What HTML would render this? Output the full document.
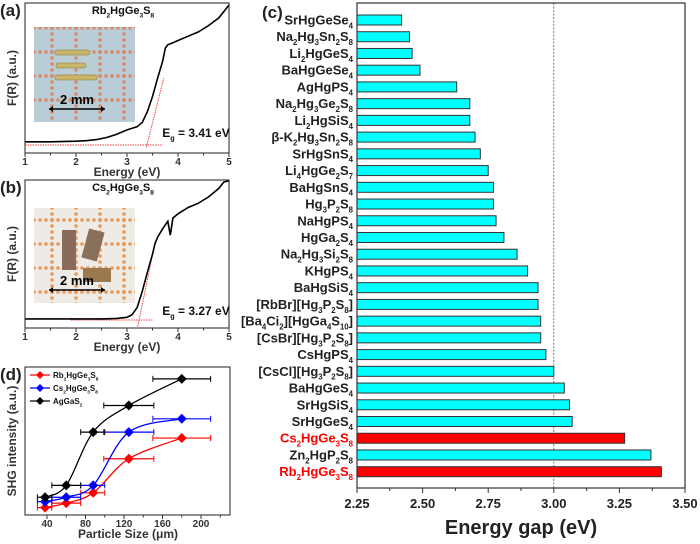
<!DOCTYPE html>
<html><head><meta charset="utf-8"><style>
html,body{margin:0;padding:0;background:#fff;}
svg{display:block;font-family:"Liberation Sans",Arial,sans-serif;font-weight:bold;}
</style></head><body>
<svg id="fig" width="700" height="544" viewBox="0 0 700 544" xmlns="http://www.w3.org/2000/svg">
<defs>
<pattern id="dotsA" width="24" height="24" patternUnits="userSpaceOnUse">
<rect width="24" height="24" fill="#b9cdd6"/>
<circle cx="4" cy="4" r="2" fill="#d98a6a"/><circle cx="10" cy="4" r="1.8" fill="#d98a6a"/><circle cx="16" cy="4" r="1.8" fill="#d98a6a"/><circle cx="22" cy="4" r="1.8" fill="#d98a6a"/>
<circle cx="4" cy="10" r="1.8" fill="#d98a6a"/><circle cx="4" cy="16" r="1.8" fill="#d98a6a"/><circle cx="4" cy="22" r="1.8" fill="#d98a6a"/>
</pattern>
<pattern id="dotsB" width="24" height="24" patternUnits="userSpaceOnUse">
<rect width="24" height="24" fill="#eeeae6"/>
<circle cx="4" cy="4" r="2" fill="#e79a5c"/><circle cx="10" cy="4" r="1.8" fill="#e79a5c"/><circle cx="16" cy="4" r="1.8" fill="#e79a5c"/><circle cx="22" cy="4" r="1.8" fill="#e79a5c"/>
<circle cx="4" cy="10" r="1.8" fill="#e79a5c"/><circle cx="4" cy="16" r="1.8" fill="#e79a5c"/><circle cx="4" cy="22" r="1.8" fill="#e79a5c"/>
</pattern>
</defs>
<g id="root"></g>
</svg>
<script>
// ---- Panel (c) data ----
const compounds = ["SrHgGeSe_4","Na_2Hg_3Sn_2S_8","Li_2HgGeS_4","BaHgGeSe_4","AgHgPS_4","Na_2Hg_3Ge_2S_8","Li_2HgSiS_4","β-K_2Hg_3Sn_2S_8","SrHgSnS_4","Li_4HgGe_2S_7","BaHgSnS_4","Hg_3P_2S_8","NaHgPS_4","HgGa_2S_4","Na_2Hg_3Si_2S_8","KHgPS_4","BaHgSiS_4","[RbBr][Hg_3P_2S_8]","[Ba_4Ci_2][HgGa_4S_10]","[CsBr][Hg_3P_2S_8]","CsHgPS_4","[CsCl][Hg_3P_2S_8]","BaHgGeS_4","SrHgSiS_4","SrHgGeS_4","Cs_2HgGe_3S_8","Zn_2HgP_2S_8","Rb_2HgGe_3S_8"];
const gaps = [2.42,2.45,2.46,2.49,2.63,2.68,2.68,2.70,2.72,2.75,2.77,2.77,2.78,2.81,2.86,2.90,2.94,2.94,2.95,2.95,2.97,3.00,3.04,3.06,3.07,3.27,3.37,3.41];
const highlighted = ["Cs_2HgGe_3S_8","Rb_2HgGe_3S_8"];
const gapTicks = ["2.25","2.50","2.75","3.00","3.25","3.50"];
// ---- Panel (a) spectrum ----
const energyA = [1.0,1.5,2.0,2.2,2.4,2.6,2.8,3.0,3.2,3.3,3.4,3.5,3.6,3.7,3.75,3.8,3.9,4.0,4.2,4.4,4.6,4.8,4.9,5.0];
const frA = [3,3,3.5,4,5,7,10,14,17,21,31,45,62,78,90,93,95,97,101,105,111,118,124,130];
// ---- Panel (b) spectrum ----
const energyB = [1.0,1.5,2.0,2.5,2.8,3.0,3.1,3.2,3.3,3.4,3.5,3.55,3.6,3.7,3.8,3.85,3.9,4.0,4.2,4.4,4.6,4.8,4.9,5.0];
const frB = [1,1,1,1,1.5,2.5,5,12,27,45,62,72,78,86,93,80,96,100,106,110,116,124,130,131];
const energyTicks = ["1","2","3","4","5"];
// ---- Panel (d) SHG ----
const particleSize = [38,60,88,125,180];
const sizeErrLow = [30,45,75,99,150];
const sizeErrHigh = [45,75,100,151,210];
const shgRb = [5,8,15,38,52];
const shgCs = [9,12,20,56,65];
const shgAg = [12,20,56,74,92];
const sizeTicks = ["40","80","120","160","200"];

const NS="http://www.w3.org/2000/svg";
const root=document.getElementById('root');
function el(tag,attrs,parent){const e=document.createElementNS(NS,tag);for(const k in attrs)e.setAttribute(k,attrs[k]);(parent||root).appendChild(e);return e;}
function chemText(x,y,str,size,fill,anchor,parent){
  const t=el('text',{x:x,y:y,'font-size':size,fill:fill,'text-anchor':anchor},parent);
  const parts=str.split(/(_[0-9a-z]+)/);
  let sub=false;
  parts.forEach(p=>{if(!p)return;const s=document.createElementNS(NS,'tspan');
    if(p[0]==='_'){s.textContent=p.slice(1);s.setAttribute('font-size',size*0.6);s.setAttribute('dy',size*0.3);sub=true;}
    else{s.textContent=p;if(sub){s.setAttribute('dy',-size*0.3);sub=false;}}
    t.appendChild(s);});
  return t;
}
function smoothPath(pts){
  let d='M'+pts[0][0]+','+pts[0][1];
  for(let i=0;i<pts.length-1;i++){
    const p0=pts[i-1]||pts[i],p1=pts[i],p2=pts[i+1],p3=pts[i+2]||p2;
    const c1=[p1[0]+(p2[0]-p0[0])/6,p1[1]+(p2[1]-p0[1])/6],c2=[p2[0]-(p3[0]-p1[0])/6,p2[1]-(p3[1]-p1[1])/6];
    d+=' C'+c1+' '+c2+' '+p2;
  }
  return d;
}

// ===== Panel C =====
(function(){
  const g=el('g',{});
  
  
  const L=357,R=685,T=3,B=488;
  const xs=v=>L+(v-2.25)/(3.5-2.25)*(R-L);
  const y0=20,step=(471.7-20)/(compounds.length-1);
  el('line',{x1:xs(3.0),x2:xs(3.0),y1:T,y2:B,stroke:'#555','stroke-width':0.8,'stroke-dasharray':'2,1.5'},g);
  compounds.forEach((c,i)=>{
    const y=y0+i*step;const hl=highlighted.includes(c);
    const b=el('rect',{x:L,y:y-5,width:xs(gaps[i])-L,height:10,fill:hl?'#ff0000':'#00ffff',stroke:'#333','stroke-width':1},g);
    
    
    const t=chemText(353,y+4.5,c,13,hl?'#ff0000':'#222','end',g);
    
    
  });
  el('rect',{x:L,y:T,width:R-L,height:B-T,fill:'none',stroke:'#333','stroke-width':1.2},g);
  gapTicks.forEach((s,i)=>{const x=xs(parseFloat(s));
    el('line',{x1:x,x2:x,y1:B,y2:B+5,stroke:'#333','stroke-width':1},g);
    if(i<gapTicks.length-1){const xm=xs(parseFloat(s)+0.125);el('line',{x1:xm,x2:xm,y1:B,y2:B+3,stroke:'#333'},g);}
    const t=el('text',{x:x,y:508,'font-size':13,'text-anchor':'middle',fill:'#222'},g);t.textContent=s;
    });
  const xt=el('text',{x:521,y:534,'font-size':20,'text-anchor':'middle',fill:'#222'},g);xt.textContent='Energy gap (eV)';
  
  const pl=el('text',{x:262,y:18,'font-size':17,fill:'#222'},g);pl.textContent='(c)';
  
})();

// ===== Panels A & B =====
function spectrum(name,label,E,F,T,B,title,eg,photoFill,photoTop,egTxtY,base,fitSeg){
  const g=el('g',{});
  
  
  const L=25,R=229;
  const xs=v=>L+(v-1)/4*(R-L);
  const ys=v=>B-8-v/130*(B-T-10);
  const ph=el('rect',{x:34,y:photoTop,width:101,height:95,fill:'url(#'+photoFill+')'},g);
  
  if(photoFill==='dotsA'){[[55,50,35],[56,63,30],[55,75,42]].forEach(r=>el('rect',{x:r[0],y:r[1],width:r[2],height:5,rx:2,fill:'#c8b46a',stroke:'#8a7a40','stroke-width':0.5},g));}
  else{el('rect',{x:62,y:photoTop+22,width:14,height:40,fill:'#8a6a5a'},g);el('rect',{x:85,y:photoTop+22,width:16,height:30,fill:'#8a7058',transform:'rotate(15 93 '+(photoTop+37)+')'},g);el('rect',{x:83,y:photoTop+60,width:28,height:14,fill:'#9a7850'},g);}
  el('line',{x1:49,x2:105,y1:photoTop+82,y2:photoTop+82,stroke:'#000','stroke-width':1.5},g);
  el('path',{d:`M49,${photoTop+82} l4,-3 v6z M105,${photoTop+82} l-4,-3 v6z`,fill:'#000'},g);
  const mm=el('text',{x:77,y:photoTop+77,'font-size':13,'text-anchor':'middle',fill:'#000'},g);mm.textContent='2 mm';
  el('line',{x1:xs(base[0]),x2:xs(base[1]),y1:ys(base[2]),y2:ys(base[2]),stroke:'#f04040','stroke-width':1,'stroke-dasharray':'1.5,1'},g);
  el('line',{x1:xs(fitSeg[0]),y1:ys(fitSeg[1]),x2:xs(fitSeg[2]),y2:ys(fitSeg[3]),stroke:'#f04040','stroke-width':1,'stroke-dasharray':'1.5,1'},g);
  const d=E.map((e,i)=>(i?'L':'M')+xs(e).toFixed(1)+','+ys(F[i]).toFixed(1)).join(' ');
  const ln=el('path',{d:d,fill:'none',stroke:'#000','stroke-width':1.6},g);
  
  el('rect',{x:L,y:T,width:R-L,height:B-T,fill:'none',stroke:'#333','stroke-width':1.1},g);
  energyTicks.forEach(s=>{const x=xs(+s);el('line',{x1:x,x2:x,y1:B,y2:B+4,stroke:'#333'},g);
    if(+s<5){const xm=xs(+s+0.5);el('line',{x1:xm,x2:xm,y1:B,y2:B+2.5,stroke:'#333'},g);}
    const t=el('text',{x:x,y:B+12,'font-size':10,'text-anchor':'middle',fill:'#333'},g);t.textContent=s;});
  const xt=el('text',{x:127,y:B+23,'font-size':12,'text-anchor':'middle',fill:'#333'},g);xt.textContent='Energy (eV)';
  const yt=el('text',{x:0,y:0,'font-size':12,'text-anchor':'middle',fill:'#333',transform:`translate(16,${(T+B)/2}) rotate(-90)`},g);yt.textContent='F(R) (a.u.)';
  chemText(123,T+11,title,11,'#111','middle',g);
  chemText(196,egTxtY,'E_g = '+eg+' eV',12,'#111','middle',g);
  const pl=el('text',{x:0,y:T+13,'font-size':17,fill:'#222'},g);pl.textContent=label;
}
spectrum('spectrum-panel-a','(a)',energyA,frA,3,153,'Rb_2HgGe_3S_8','3.41','dotsA',27,137,[1,3.7,0],[3.38,-2,3.72,62]);
spectrum('spectrum-panel-b','(b)',energyB,frB,180,328,'Cs_2HgGe_3S_8','3.27','dotsB',208,315,[1.9,3.52,0],[3.21,-6,3.56,75]);

// ===== Panel D =====
(function(){
  const g=el('g',{});
  
  
  const L=25,R=230,T=367,B=515;
  const xs=v=>47+(v-40)*(201-47)/160;
  const ys=v=>B-v*1.48;
  const series=[[shgRb,'#ff0000','Rb_2HgGe_3S_8'],[shgCs,'#0000ff','Cs_2HgGe_3S_8'],[shgAg,'#000','AgGaS_2']];
  series.forEach(([vals,col,nm])=>{
    const pts=particleSize.map((s,i)=>[xs(s),ys(vals[i])]);
    const c=el('path',{d:smoothPath(pts),fill:'none',stroke:col,'stroke-width':1.3},g);
    
    particleSize.forEach((s,i)=>{const y=ys(vals[i]);
      el('line',{x1:xs(sizeErrLow[i]),x2:xs(sizeErrHigh[i]),y1:y,y2:y,stroke:col,'stroke-width':1.2},g);
      el('line',{x1:xs(sizeErrLow[i]),x2:xs(sizeErrLow[i]),y1:y-3,y2:y+3,stroke:col},g);
      el('line',{x1:xs(sizeErrHigh[i]),x2:xs(sizeErrHigh[i]),y1:y-3,y2:y+3,stroke:col},g);
      const m=el('path',{d:`M${xs(s)},${y-5} l5,5 l-5,5 l-5,-5z`,fill:col},g);
      });
  });
  series.forEach(([v,col,nm],i)=>{const y=375+i*13;
    el('line',{x1:30,x2:50,y1:y,y2:y,stroke:col,'stroke-width':1.3},g);
    el('path',{d:`M40,${y-4} l4,4 l-4,4 l-4,-4z`,fill:col},g);
    const t=chemText(53,y+3,nm,8,'#111','start',g);
    });
  el('rect',{x:L,y:T,width:R-L,height:B-T,fill:'none',stroke:'#333','stroke-width':1.1},g);
  sizeTicks.forEach(s=>{const x=xs(+s);el('line',{x1:x,x2:x,y1:B,y2:B+4,stroke:'#333'},g);
    const xm=xs(+s+20);if(xm<R)el('line',{x1:xm,x2:xm,y1:B,y2:B+2.5,stroke:'#333'},g);
    const t=el('text',{x:x,y:B+12,'font-size':10,'text-anchor':'middle',fill:'#333'},g);t.textContent=s;});
  const xt=el('text',{x:128,y:538,'font-size':12,'text-anchor':'middle',fill:'#333'},g);xt.textContent='Particle Size (μm)';
  const yt=el('text',{x:0,y:0,'font-size':12,'text-anchor':'middle',fill:'#333',transform:`translate(16,${(T+B)/2}) rotate(-90)`},g);yt.textContent='SHG intensity (a.u.)';
  const pl=el('text',{x:0,y:380,'font-size':17,fill:'#222'},g);pl.textContent='(d)';
})();
</script>
</body></html>
